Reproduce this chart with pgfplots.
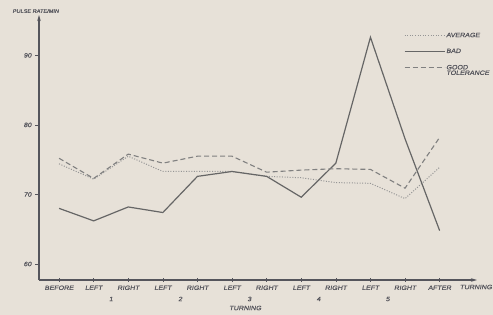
\documentclass[border=0pt]{standalone}
\usepackage{fontspec}
\setmainfont{Liberation Sans}
\newfontfamily\hand{Liberation Sans}[FakeSlant=0.18, FakeStretch=1.12, FakeBold=0.6]
\usepackage{pgfplots}
\pgfplotsset{compat=1.18}
\usetikzlibrary{arrows.meta}
\definecolor{paper}{HTML}{E7E1D8}
\definecolor{ink}{HTML}{55555C}
\definecolor{solidc}{HTML}{666666}
\definecolor{dashc}{HTML}{808080}
\definecolor{dotc}{HTML}{959595}
\newcommand{\hf}{\hand\fontsize{6.3}{7}\selectfont}
\begin{document}
\begin{tikzpicture}
\fill[paper] (0pt,0pt) rectangle (493pt,315pt);
\path[use as bounding box] (0pt,0pt) rectangle (493pt,315pt);
\begin{axis}[
  at={(39pt,35pt)}, anchor=south west,
  scale only axis, width=438pt, height=265pt,
  xmin=-0.58, xmax=12.08, ymin=57.7, ymax=95.8,
  axis lines=left,
  axis line style={ink, line width=1.1pt, -{Stealth[length=6pt,width=3.5pt]}},
  xtick={0,...,11},
  xticklabels={BEFORE,LEFT,RIGHT,LEFT,RIGHT,LEFT,RIGHT,LEFT,RIGHT,LEFT,RIGHT,AFTER},
  ytick={60,70,80,90},
  xtick align=center, ytick align=outside,
  major tick length=4pt,
  tick style={ink, line width=0.6pt},
  tick label style={font=\hf, text=ink},
  /pgf/number format/assume math mode=true,
  clip=false,
  legend style={at={(0.826,0.945)}, anchor=north west, draw=none, fill=none,
    font=\hf, text=ink, row sep=8pt, nodes={inner sep=1pt}},
  legend cell align=left,
  legend image code/.code={\draw[#1] (0pt,0pt) -- (40pt,0pt);},
]
\addplot[dotc, line width=1pt, dash pattern=on 1pt off 1.6pt] coordinates {
(0,74.4) (1,72.2) (2,75.5) (3,73.3) (4,73.3) (5,73.3) (6,72.6) (7,72.4) (8,71.7) (9,71.6) (10,69.4) (11,73.9)};
\addlegendentry{AVERAGE}
\addplot[solidc, line width=1.2pt] coordinates {
(0,68.0) (1,66.2) (2,68.2) (3,67.4) (4,72.6) (5,73.3) (6,72.6) (7,69.6) (8,74.5) (9,92.6) (10,78.0) (11,64.8)};
\addlegendentry{BAD}
\addplot[dashc, line width=1.1pt, dash pattern=on 5pt off 3pt] coordinates {
(0,75.2) (1,72.3) (2,75.8) (3,74.5) (4,75.5) (5,75.5) (6,73.2) (7,73.5) (8,73.7) (9,73.6) (10,70.9) (11,78.2)};
\addlegendentry{\begin{tabular}[t]{@{}l@{}}GOOD\\[-1.5pt]TOLERANCE\end{tabular}}
\node[font=\hf, text=ink] at (axis cs:1.5,57.7) [yshift=-19pt] {1};
\node[font=\hf, text=ink] at (axis cs:3.5,57.7) [yshift=-19pt] {2};
\node[font=\hf, text=ink] at (axis cs:5.5,57.7) [yshift=-19pt] {3};
\node[font=\hf, text=ink] at (axis cs:7.5,57.7) [yshift=-19pt] {4};
\node[font=\hf, text=ink] at (axis cs:9.5,57.7) [yshift=-19pt] {5};
\node[font=\hf, text=ink] at (axis cs:5.38,57.7) [yshift=-28pt] {TURNING};
\node[font=\hf, text=ink, anchor=west, inner sep=0pt] at (axis cs:11,57.7) [xshift=20pt, yshift=-7pt] {TURNING};
\end{axis}
\node[font=\hand\fontsize{5}{6}\selectfont, text=ink, anchor=west] at (9pt,304pt) {PULSE RATE/MIN};
\end{tikzpicture}
\end{document}
